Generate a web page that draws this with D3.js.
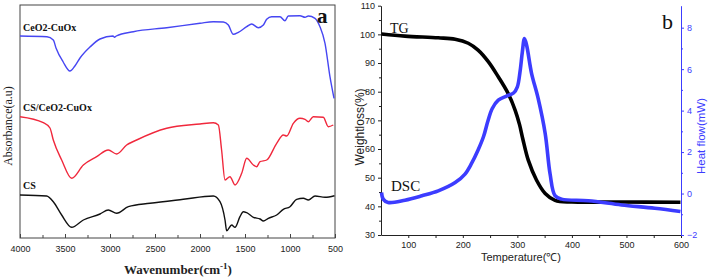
<!DOCTYPE html>
<html><head><meta charset="utf-8">
<script src="https://cdn.jsdelivr.net/npm/d3@7"></script>
<style>body{margin:0;background:#fff}svg{display:block}</style>
</head><body>
<svg id="c" width="709" height="279"></svg>
<script>
// ---------- Panel a: FTIR ----------
const wnBlue = [4000,3700,3630,3600,3520,3445,3390,3333,3222,3111,2967,2950,2930,2741,2370,2000,1852,1741,1685,1630,1574,1481,1426,1352,1296,1259,1204,1111,1056,1019,889,833,796,722,667,611,556,511];
const absBlue = [202,201.3,198,190,176,167,172,180,191,199,202,200.7,202,206.3,210.3,214.7,216.3,216,213,203.7,205.7,211.3,214,210.3,213,218.7,221.3,221.3,217.3,222,222.3,220.7,222,219.7,211.3,194.7,161.3,139.7];
const wnRed = [4000,3741,3667,3630,3537,3426,3296,3148,3019,2926,2815,2704,2370,2000,1852,1796,1760,1722,1667,1611,1537,1481,1407,1370,1333,1259,1148,1074,1037,963,889,833,796,741,630,574,519];
const absRed = [121.3,115.3,110,98,78,59.7,73,81.3,88,84,93,98,109.7,114,115.3,113,88,58,61.3,53,64.7,79.7,73,71.3,76.3,78,94.7,103,102,114.7,119.7,118.7,116.3,121.3,120.7,111.3,113];
const wnBlack = [4000,3704,3630,3537,3426,3296,3111,3019,2926,2796,2556,2185,1852,1778,1722,1704,1648,1611,1556,1519,1481,1407,1333,1296,1241,1148,1074,1000,926,852,796,722,611,506];
const absBlack = [43,42,36.3,23,10.7,18,24,28,24.7,31.3,34.7,38.7,42,36.3,18,7.3,13,10.7,21.3,26.3,25.3,20.7,19,17,19.7,23,28.7,31.3,38.7,39.7,38,42,40.7,42.3];
const seriesA = ["CeO2-CuOx","CS/CeO2-CuOx","CS"];
const wnTicks = [4000,3500,3000,2500,2000,1500,1000,500];
const wnMinor = [3750,3250,2750,2250,1750,1250,750];

// ---------- Panel b: TG / DSC ----------
const tTG = [51,94,155,186,210,228,247,265,283,296,304,310,320,335,351,369,400,491,599];
const wTG = [100.1,99.4,98.8,98.3,96.9,94.5,90.4,85.2,79.4,73.5,68.5,63.5,56.1,49.2,44.5,42.1,41.5,41.5,41.4];
const tDSC = [51,54,63,94,125,155,186,204,216,228,238,246,254,265,280,293,300,305,309,313,317,326,338,351,360,369,381,430,491,552,599];
const hDSC = [0.05,-0.27,-0.43,-0.32,-0.11,0.13,0.53,0.94,1.45,2.1,2.75,3.5,4.1,4.5,4.7,4.85,5.15,5.9,6.8,7.48,7.15,5.8,4.6,2.9,0.94,-0.1,-0.27,-0.35,-0.55,-0.71,-0.87];
const tTicks = [100,200,300,400,500,600];
const tMinor = [150,250,350,450,550];
const wTicks = [30,40,50,60,70,80,90,100,110];
const wMinor = [35,45,55,65,75,85,95,105];
const hTicks = [-2,0,2,4,6,8];
const hMinor = [-1,1,3,5,7];

const svg = d3.select("#c");
const SANS = "'Liberation Sans', Arial, sans-serif";
const SERIF = "'Liberation Serif', 'Times New Roman', serif";
const BLUE_A = "#4646f2", RED_A = "#f0283c", BLUE_B = "#3c3cff";

// Panel a
const ax = d3.scaleLinear().domain([4000,500]).range([20,335]);
const ay = d3.scaleLinear().domain([0,233]).range([238,5]);
const ga = svg.append("g");
ga.append("rect").attr("x",20).attr("y",5).attr("width",315).attr("height",233)
  .attr("fill","none").attr("stroke","#444").attr("stroke-width",1);
const axisA = d3.axisBottom(ax).tickValues(wnTicks).tickSize(-4).tickPadding(8).tickFormat(d3.format("d"));
const gax = ga.append("g").attr("transform","translate(0,238)").call(axisA);
gax.select(".domain").remove();
gax.selectAll("line").attr("stroke","#444");
gax.selectAll("text").attr("font-family",SANS).attr("font-size",9).attr("fill","#222");
const axisAm = d3.axisBottom(ax).tickValues(wnMinor).tickSize(-3).tickFormat("");
const gam = ga.append("g").attr("transform","translate(0,238)").call(axisAm);
gam.select(".domain").remove(); gam.selectAll("line").attr("stroke","#444");

const lineA = d3.line().curve(d3.curveMonotoneX);
const dataA = [[wnBlue,absBlue,BLUE_A],[wnRed,absRed,RED_A],[wnBlack,absBlack,"#111"]];
dataA.forEach(([xs,ys,col])=>{
  ga.append("path").attr("d", lineA(xs.map((x,i)=>[ax(x),ay(ys[i])])))
    .attr("fill","none").attr("stroke",col).attr("stroke-width",1.4);
});
const labPos = [[23,31],[23,111],[23,189]];
seriesA.forEach((s,i)=>{
  ga.append("text").attr("x",labPos[i][0]).attr("y",labPos[i][1]).text(s)
    .attr("font-family",SERIF).attr("font-weight","bold").attr("font-size",10).attr("fill","#111");
});
ga.append("text").attr("x",317).attr("y",23).text("a").attr("font-family",SERIF)
  .attr("font-weight","bold").attr("font-size",21).attr("fill","#111");
ga.append("text").attr("transform","translate(12,126) rotate(-90)").attr("text-anchor","middle")
  .attr("font-family",SERIF).attr("font-size",12).attr("fill","#222").text("Absorbance(a.u)");
const wl = ga.append("text").attr("x",178).attr("y",274).attr("text-anchor","middle")
  .attr("font-family",SERIF).attr("font-weight","bold").attr("font-size",13).attr("fill","#222");
wl.append("tspan").text("Wavenumber(cm");
wl.append("tspan").attr("dy",-5).attr("font-size",9).text("-1");
wl.append("tspan").attr("dy",5).text(")");

// Panel b
const bx = d3.scaleLinear().domain([50,600]).range([381,681]);
const by = d3.scaleLinear().domain([30,110]).range([235,5.7]);
const by2 = d3.scaleLinear().domain([-2,9.06]).range([235,5.7]);
const gb = svg.append("g");
function styleAxis(g,col){
  g.select(".domain").attr("stroke",col);
  g.selectAll("line").attr("stroke",col);
  g.selectAll("text").attr("font-family",SANS).attr("font-size",9).attr("fill",col);
}
const gbx = gb.append("g").attr("transform","translate(0,235)")
  .call(d3.axisBottom(bx).tickValues(tTicks).tickSize(3).tickPadding(4).tickSizeOuter(0));
styleAxis(gbx,"#222");
const gbxm = gb.append("g").attr("transform","translate(0,235)")
  .call(d3.axisBottom(bx).tickValues(tMinor).tickSize(3).tickFormat("").tickSizeOuter(0));
gbxm.select(".domain").remove(); gbxm.selectAll("line").attr("stroke","#222");
const gby = gb.append("g").attr("transform","translate(381,0)")
  .call(d3.axisLeft(by).tickValues(wTicks).tickSize(3).tickPadding(3).tickSizeOuter(0));
styleAxis(gby,"#222");
const gbym = gb.append("g").attr("transform","translate(381,0)")
  .call(d3.axisLeft(by).tickValues(wMinor).tickSize(2).tickFormat("").tickSizeOuter(0));
gbym.select(".domain").remove(); gbym.selectAll("line").attr("stroke","#222");
const gby2 = gb.append("g").attr("transform","translate(681,0)")
  .call(d3.axisRight(by2).tickValues(hTicks).tickSize(3).tickPadding(3).tickSizeOuter(0));
styleAxis(gby2,BLUE_B);
const gby2m = gb.append("g").attr("transform","translate(681,0)")
  .call(d3.axisRight(by2).tickValues(hMinor).tickSize(2).tickFormat("").tickSizeOuter(0));
gby2m.select(".domain").remove(); gby2m.selectAll("line").attr("stroke",BLUE_B);

const lineB = d3.line().curve(d3.curveCatmullRom.alpha(0.5));
gb.append("path").attr("d", lineB(tTG.map((t,i)=>[bx(t),by(wTG[i])])))
  .attr("fill","none").attr("stroke","#000").attr("stroke-width",3.6);
gb.append("path").attr("d", lineB(tDSC.map((t,i)=>[bx(t),by2(hDSC[i])])))
  .attr("fill","none").attr("stroke",BLUE_B).attr("stroke-width",3.6);

gb.append("text").attr("x",390).attr("y",33).text("TG").attr("font-family",SERIF)
  .attr("font-size",14).attr("fill","#111");
gb.append("text").attr("x",391).attr("y",191).text("DSC").attr("font-family",SERIF)
  .attr("font-size",15).attr("fill","#111");
gb.append("text").attr("x",662).attr("y",29).text("b").attr("font-family",SERIF)
  .attr("font-size",22).attr("fill","#111");
gb.append("text").attr("transform","translate(364,127) rotate(-90)").attr("text-anchor","middle")
  .attr("font-family",SANS).attr("font-size",12).attr("fill","#222").text("Weightloss(%)");
gb.append("text").attr("transform","translate(705,136) rotate(-90)").attr("text-anchor","middle")
  .attr("font-family",SANS).attr("font-size",11.5).attr("fill",BLUE_B).text("Heat flow(mW)");
gb.append("text").attr("x",521).attr("y",261).attr("text-anchor","middle")
  .attr("font-family",SANS).attr("font-size",11).attr("fill","#222").text("Temperature(℃)");
</script>
</body></html>
